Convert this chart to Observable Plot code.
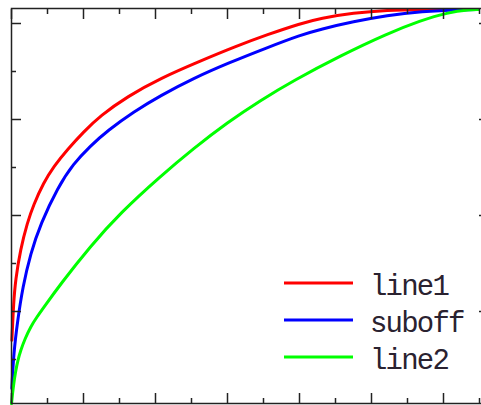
<!DOCTYPE html>
<html><head><meta charset="utf-8">
<script src="https://cdn.jsdelivr.net/npm/d3@7"></script>
<script src="https://cdn.jsdelivr.net/npm/@observablehq/plot@0.6"></script>
<style>
html,body{margin:0;padding:0;background:#fff;}
#wrap{position:relative;width:481px;height:405px;overflow:hidden;background:#fff;}
#wrap svg{display:block;}
#legend{position:absolute;left:0;top:0;pointer-events:none;}
#legend text{font-family:"Liberation Mono","DejaVu Sans Mono",monospace;font-size:29px;letter-spacing:-1.8px;fill:#2a2230;}
</style></head><body>
<div id="wrap"></div>
<script>
// series
const seriesNames = ["line1", "suboff", "line2"];
const seriesColors = ["#ff0000", "#0000ff", "#00ff00"];

// line1 (red)
const line1X = [0.01, 0.06, 0.11, 0.25, 0.44, 0.61, 0.89, 1.17, 1.56, 2.00, 2.47, 3.22, 4.14, 5.25, 6.22, 7.11, 8.03, 8.58, 9.50, 10.44, 11.36, 12.97];
const line1Y = [1.40, 2.20, 2.65, 3.30, 3.85, 4.22, 4.68, 5.02, 5.38, 5.74, 6.08, 6.48, 6.86, 7.22, 7.52, 7.77, 8.00, 8.11, 8.22, 8.28, 8.29, 8.29];

// suboff (blue)
const suboffX = [0.01, 0.06, 0.17, 0.31, 0.53, 0.81, 1.28, 1.72, 2.19, 2.67, 3.39, 4.14, 5.06, 6.00, 7.11, 8.03, 8.58, 9.50, 10.44, 11.36, 12.56, 12.97];
const suboffY = [0.40, 1.13, 1.81, 2.50, 3.21, 3.83, 4.58, 5.08, 5.45, 5.77, 6.16, 6.50, 6.86, 7.17, 7.50, 7.76, 7.88, 8.04, 8.17, 8.25, 8.29, 8.29];

// line2 (green)
const line2X = [0.00, 0.03, 0.06, 0.11, 0.18, 0.25, 0.38, 0.53, 0.70, 0.89, 1.36, 2.19, 3.03, 4.14, 5.06, 6.00, 6.92, 7.83, 9.14, 10.44, 11.36, 12.11, 12.75, 12.97];
const line2Y = [0.08, 0.30, 0.48, 0.74, 0.99, 1.18, 1.44, 1.68, 1.88, 2.08, 2.57, 3.36, 4.06, 4.82, 5.40, 5.94, 6.40, 6.81, 7.33, 7.79, 8.06, 8.23, 8.29, 8.29];

// ticks (no labels on this chart)
const xMajorTicks = [0, 2, 4, 6, 8, 10, 12];
const xMinorTicks = [1, 3, 5, 7, 9, 11, 13];
const yMajorTicks = [2, 4, 6, 8];
const yMinorTicks = [1, 3, 5, 7];

const seriesX = [line1X, suboffX, line2X];
const seriesY = [line1Y, suboffY, line2Y];
const data = seriesNames.flatMap((name, i) =>
  seriesX[i].map((x, j) => ({series: name, x, y: seriesY[i][j]})));

const axisStyle = {stroke: "#222", strokeWidth: 1.5, tickFormat: () => "", label: null};

const chart = Plot.plot({
  width: 481,
  height: 405,
  marginLeft: 11,
  marginRight: -7,
  marginTop: 8,
  marginBottom: 2,
  x: {domain: [0, 13.25]},
  y: {domain: [0.0833, 8.3125]},
  color: {domain: seriesNames, range: seriesColors},
  style: {background: "white", overflow: "hidden"},
  marks: [
    Plot.line(data, {x: "x", y: "y", z: "series", stroke: "series", strokeWidth: 3, curve: "basis"}),
    Plot.frame({stroke: "#222", strokeWidth: 1.5}),
    Plot.axisX({...axisStyle, anchor: "bottom", ticks: xMajorTicks, tickSize: -10}),
    Plot.axisX({...axisStyle, anchor: "bottom", ticks: xMinorTicks, tickSize: -5}),
    Plot.axisX({...axisStyle, anchor: "top", ticks: xMajorTicks, tickSize: -10}),
    Plot.axisX({...axisStyle, anchor: "top", ticks: xMinorTicks, tickSize: -5}),
    Plot.axisY({...axisStyle, anchor: "left", ticks: yMajorTicks, tickSize: -10}),
    Plot.axisY({...axisStyle, anchor: "left", ticks: yMinorTicks, tickSize: -5}),
    Plot.axisY({...axisStyle, anchor: "right", ticks: yMajorTicks, tickSize: -10}),
    Plot.axisY({...axisStyle, anchor: "right", ticks: yMinorTicks, tickSize: -5})
  ]
});

const wrap = document.getElementById("wrap");
wrap.appendChild(chart);

// legend inside the plot area (overlay)
const legend = d3.select(wrap).append("svg")
  .attr("id", "legend").attr("width", 481).attr("height", 405);
const items = legend.selectAll("g").data(seriesNames).join("g")
  .attr("transform", (d, i) => `translate(284,${283 + i * 37})`);
items.append("line")
  .attr("x1", 0).attr("x2", 69).attr("y1", 0).attr("y2", 0)
  .attr("stroke", (d, i) => seriesColors[i]).attr("stroke-width", 3);
items.append("text")
  .attr("x", 86).attr("y", 12)
  .text(d => d);
</script>
</body></html>
